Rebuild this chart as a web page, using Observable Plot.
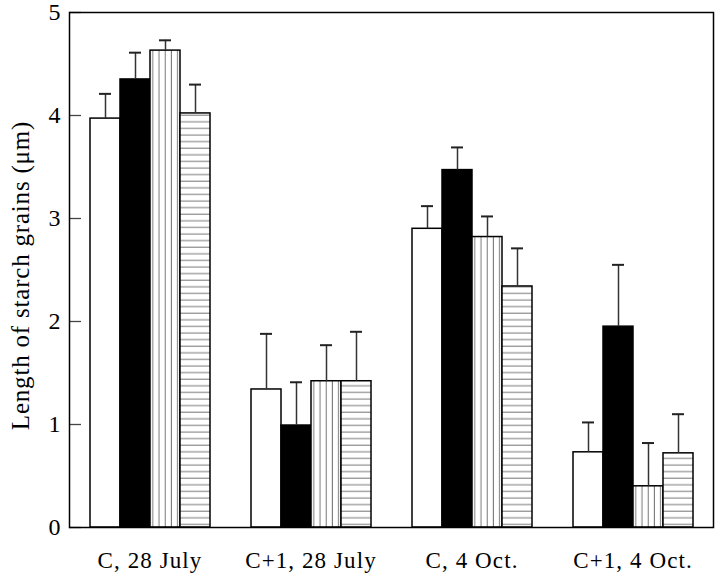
<!DOCTYPE html>
<html><head><meta charset="utf-8">
<script src="https://cdn.jsdelivr.net/npm/d3@7"></script>
<script src="https://cdn.jsdelivr.net/npm/@observablehq/plot@0.6"></script>
<style>body{margin:0;background:#fff}</style>
</head><body><div id="chart"></div>
<script>
const groups = ["C, 28 July", "C+1, 28 July", "C, 4 Oct.", "C+1, 4 Oct."];
const seriesNames = ["open", "solid", "vertical", "horizontal"];
const openMean = [3.97, 1.34, 2.90, 0.73];
const openErr = [0.24, 0.54, 0.22, 0.29];
const solidMean = [4.35, 0.99, 3.47, 1.95];
const solidErr = [0.26, 0.42, 0.22, 0.60];
const verticalMean = [4.63, 1.42, 2.82, 0.40];
const verticalErr = [0.10, 0.35, 0.20, 0.42];
const horizontalMean = [4.02, 1.42, 2.34, 0.72];
const horizontalErr = [0.28, 0.48, 0.37, 0.38];
const yTicks = [0, 1, 2, 3, 4, 5];
const yLabel = "Length of starch grains (\u03bcm)";

const means = [openMean, solidMean, verticalMean, horizontalMean];
const errs = [openErr, solidErr, verticalErr, horizontalErr];
const data = [];
groups.forEach((g, gi) => seriesNames.forEach((s, si) => {
  data.push({group: g, series: s, mean: means[si][gi], err: errs[si][gi]});
}));

const plot = Plot.plot({
  width: 720, height: 577,
  marginLeft: 68, marginRight: 7, marginTop: 12, marginBottom: 50,
  style: {fontFamily: "'Liberation Serif', serif", background: "white", color: "black"},
  fx: {domain: groups, padding: 0, label: null},
  x: {domain: seriesNames, paddingInner: 0, paddingOuter: 0.62, axis: null},
  y: {domain: [0, 5], axis: null},
  color: {type: "ordinal", domain: seriesNames, range: ["white", "black", "url(#vstripe)", "url(#hstripe)"]},
  marks: [
    Plot.axisFx({anchor: "bottom", tickSize: 0, tickPadding: 24, fontSize: 23, label: null}),
    Plot.barY(data, {fx: "group", x: "series", y: "mean", fill: "series", stroke: "black", strokeWidth: 1.5}),
    Plot.axisY({ticks: yTicks, tickSize: -12, tickPadding: 21, fontSize: 24, label: null, tickFormat: d => d, stroke: "#444", strokeWidth: 1.3}),
    Plot.ruleX(data, {fx: "group", x: "series", y1: "mean", y2: d => d.mean + d.err, stroke: "#333", strokeWidth: 1.5}),
    Plot.tickY(data, {fx: "group", x: "series", y: d => d.mean + d.err, insetLeft: 9, insetRight: 9, stroke: "#222", strokeWidth: 2}),
    Plot.frame({facet: "super", strokeWidth: 1.5}),
    Plot.text([yLabel], {facet: "super", frameAnchor: "left", textAnchor: "middle", text: d => d, rotate: -90, dx: -49, dy: 5.5, fontSize: 25})
  ]
});

const svg = d3.select(plot);
const defs = svg.insert("defs", ":first-child");
const pv = defs.append("pattern").attr("id", "vstripe").attr("patternUnits", "userSpaceOnUse")
  .attr("width", 6.2).attr("height", 10);
pv.append("rect").attr("width", 6.2).attr("height", 10).attr("fill", "white");
pv.append("line").attr("x1", 3).attr("x2", 3).attr("y1", 0).attr("y2", 10).attr("stroke", "#777").attr("stroke-width", 1);
const ph = defs.append("pattern").attr("id", "hstripe").attr("patternUnits", "userSpaceOnUse")
  .attr("width", 10).attr("height", 6.6);
ph.append("rect").attr("width", 10).attr("height", 6.6).attr("fill", "white");
ph.append("line").attr("x1", 0).attr("x2", 10).attr("y1", 3).attr("y2", 3).attr("stroke", "#777").attr("stroke-width", 1);

svg.selectAll('g[aria-label="fx-axis tick label"] text').style("letter-spacing", "1.1px");
svg.selectAll('g[aria-label="text"] text').style("letter-spacing", "0.8px");

document.getElementById("chart").appendChild(plot);
</script>
</body></html>
